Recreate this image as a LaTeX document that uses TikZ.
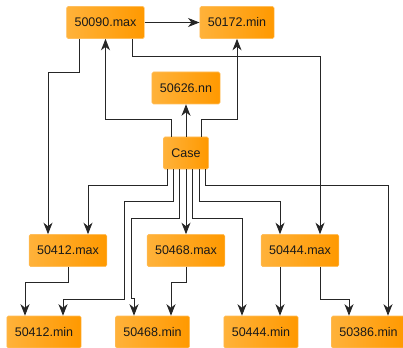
\documentclass[tikz,border=0pt]{standalone}
\usepackage{fontspec}
\setmainfont{Liberation Sans}
\usepackage{tikz}
\usetikzlibrary{arrows.meta, positioning, calc}

\definecolor{boxorange}{HTML}{FF9900}
\definecolor{boxlight}{HTML}{FFB23A}
\definecolor{boxline}{HTML}{FFBE5C}
\definecolor{linkgray}{HTML}{262626}

\begin{document}
\begin{tikzpicture}[x=1pt, y=-1pt,
    box/.style={draw=boxline, line width=0.6pt, left color=boxlight, right color=boxorange,
        rounded corners=1.5pt, minimum height=32pt, inner xsep=8pt, inner ysep=0pt,
        text=black!90, font=\fontsize{12.5}{14}\selectfont},
    link/.style={draw=linkgray, line width=1pt, -{Stealth[length=11.5pt, width=9pt, inset=3.5pt]}}]
    \useasboundingbox (0,0) rectangle (403,347);
    % top rows
    \node[box] (max90) at (105.5,22.5) {50090.max};
    \node[box] (min172) at (237,22.5) {50172.min};
    \node[box] (nn626) at (186,88) {50626.nn};
    \node[box] (case) at (186,153) {Case};
    % middle row
    \node[box] (max412) at (68,250.5) {50412.max};
    \node[box] (max468) at (186,250.5) {50468.max};
    \node[box] (max444) at (300,250.5) {50444.max};
    % bottom row
    \node[box] (min412) at (44,332) {50412.min};
    \node[box] (min468) at (152.5,332) {50468.min};
    \node[box] (min444) at (261,332) {50444.min};
    \node[box] (min386) at (368.5,332) {50386.min};

    \draw[link] (max90.east) -- (min172.west);
    \draw[link] ([xshift=-26.5pt]max90.south) -- ++(0,33.5) -| ([xshift=-20pt]max412.north);
    \draw[link] ([xshift=26.5pt]max90.south) -- ++(0,17.5) -| ([xshift=20pt]max444.north);
    % up from case
    \draw[link] ([xshift=-15pt]case.north) -- ++(0,-17) -| (max90.south);
    \draw[link] (case.north) -- (nn626.south);
    \draw[link] ([xshift=15pt]case.north) -- ++(0,-17) -| (min172.south);
    % down from case
    \draw[link] ([xshift=-19pt]case.south) -- ++(0,16.5) -| ([xshift=20pt]max412.north);
    \draw[link] ([xshift=-13pt]case.south) -- ++(0,32) -| (124,299) -| ([xshift=19pt]min412.north);
    \draw[link] ([xshift=-6.5pt]case.south) -- ++(0,49) -| (131,298) -| ([xshift=-18.5pt]min468.north);
    \draw[link] (case.south) -- (max468.north);
    \draw[link] ([xshift=6.5pt]case.south) -- ++(0,49) -| ([xshift=-19pt]min444.north);
    \draw[link] ([xshift=13pt]case.south) -- ++(0,32) -| ([xshift=-20pt]max444.north);
    \draw[link] ([xshift=19pt]case.south) -- ++(0,16.5) -| ([xshift=19.5pt]min386.north);
    % max to min
    \draw[link] (max412.south) -- ++(0,16) -| ([xshift=-19pt]min412.north);
    \draw[link] (max468.south) -- ++(0,16) -| ([xshift=18.5pt]min468.north);
    \draw[link] ([xshift=-20pt]max444.south) -- ([xshift=19pt]min444.north);
    \draw[link] ([xshift=20pt]max444.south) -- ++(0,32.5) -| ([xshift=-19.5pt]min386.north);
\end{tikzpicture}
\end{document}
